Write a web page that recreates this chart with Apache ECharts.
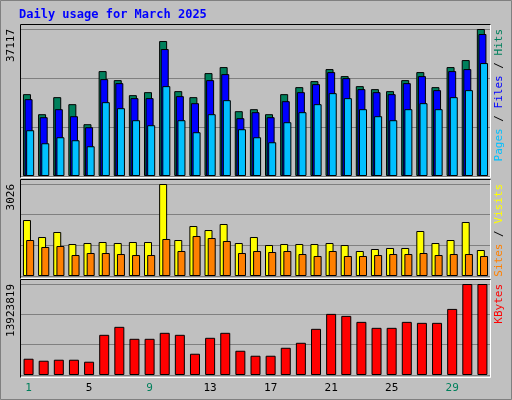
<!DOCTYPE html>
<html><head><meta charset="utf-8">
<script src="https://cdn.jsdelivr.net/npm/echarts@6/dist/echarts.min.js"></script>
<style>html,body{margin:0;padding:0;background:#c0c0c0}#c{width:512px;height:400px}</style>
</head><body><div id="c"></div>
<script>
const days = ['1','2','3','4','5','6','7','8','9','10','11','12','13','14','15','16','17','18','19','20','21','22','23','24','25','26','27','28','29','30','31'];
const weekend = ['1','2','8','9','15','16','22','23','29','30'];
const hits = [20668,15607,19909,18137,13076,26489,24211,20415,21174,34081,21427,19909,25983,27501,16366,16872,15607,20668,22440,23958,26995,25224,22693,21934,21427,24211,26236,22440,27501,29273,37117];
const files = [19403,14847,16872,15100,12317,24464,23452,19656,19656,32057,20162,18390,24211,25730,14594,16113,14847,18897,21174,23199,26236,24717,21934,21174,20668,23452,25224,21681,26489,26995,35853];
const pages = [11557,8267,9786,9027,7508,18644,17125,14088,12823,22693,14088,11051,15607,19150,11810,9786,8520,13582,16113,18137,20921,19656,16872,15100,14088,16872,18390,16872,19909,21681,28514];
const visits = [1841,1282,1447,1052,1085,1118,1085,1118,1118,3026,1184,1644,1512,1710,1085,1282,1019,1052,1052,1052,1085,1019,822,888,921,921,1480,1085,1184,1776,855];
const sites = [1184,954,986,690,756,756,723,690,690,1217,822,1315,1249,1151,756,822,789,822,723,658,822,658,658,690,723,723,756,690,723,723,658];
const kbytes = [2490033,2185131,2337582,2337582,2032680,6148857,7368465,5539053,5539053,6453759,6148857,3252288,5691504,6453759,3709641,2947386,2947386,4166994,4929249,7063563,9350328,9045426,8130720,7216014,7216014,8130720,7978269,7978269,10112583,13923819,13923819];
const maxHits = 37117, maxVisits = 3026, maxKB = 13923819;

const mono = 'DejaVu Sans Mono';
const grids = [
  {left:21, width:469, top:29, height:147},
  {left:21, width:469, top:184, height:92},
  {left:21, width:469, top:284, height:91}
];
function xa(i, showLabels){
  return {type:'category', data:days, gridIndex:i,
    axisLine:{show:false}, axisTick:{show:false},
    axisLabel: showLabels ? {show:true, fontFamily:mono, fontSize:11, margin:8,
      formatter:v => weekend.includes(v) ? '{w|'+v+'}' : '{d|'+v+'}',
      rich:{w:{color:'#00805c',fontFamily:mono,fontSize:11}, d:{color:'#000',fontFamily:mono,fontSize:11}}} : {show:false}};
}
function ya(i, max){
  return {type:'value', gridIndex:i, min:0, max:max, interval:max/3,
    axisLine:{show:false}, axisTick:{show:false}, axisLabel:{show:false},
    splitLine:{show:true, lineStyle:{color:'#808080', width:1}}};
}
const bs = c => ({color:c, borderColor:'#000', borderWidth:1});
function frame(x,y,w,h){
  return [
    {type:'rect', shape:{x:x,y:y,width:w,height:h}, style:{fill:'none', stroke:'#fff', lineWidth:1}, z:-1},
    {type:'polyline', shape:{points:[[x,y+h],[x,y],[x+w,y]]}, style:{stroke:'#000', fill:'none', lineWidth:1}, z:-1}
  ];
}
function vtext(x,y,rich,text){
  return {type:'text', x:x, y:y, rotation:Math.PI/2, style:{text:text, rich:rich, font:'11px '+mono, align:'left', verticalAlign:'middle'}};
}
const chart = echarts.init(document.getElementById('c'));
chart.setOption({
  backgroundColor:'#c0c0c0',
  animation:false,
  grid:grids,
  xAxis:[xa(0,false), xa(1,false), xa(2,true)],
  yAxis:[ya(0,maxHits), ya(1,maxVisits), ya(2,maxKB)],
  series:[
    {type:'bar', name:'Hits', xAxisIndex:0, yAxisIndex:0, data:hits, barWidth:8, barGap:'-80%', itemStyle:bs('#00805c')},
    {type:'bar', name:'Files', xAxisIndex:0, yAxisIndex:0, data:files, barWidth:8, barGap:'-80%', itemStyle:bs('#0000ff')},
    {type:'bar', name:'Pages', xAxisIndex:0, yAxisIndex:0, data:pages, barWidth:8, barGap:'-80%', itemStyle:bs('#00c0ff')},
    {type:'bar', name:'Visits', xAxisIndex:1, yAxisIndex:1, data:visits, barWidth:8, barGap:'-60%', itemStyle:bs('#ffff00')},
    {type:'bar', name:'Sites', xAxisIndex:1, yAxisIndex:1, data:sites, barWidth:8, barGap:'-60%', itemStyle:bs('#ff8000')},
    {type:'bar', name:'KBytes', xAxisIndex:2, yAxisIndex:2, data:kbytes, barWidth:10, itemStyle:bs('#ff0000')}
  ],
  graphic:[
    {type:'rect', shape:{x:0.5,y:0.5,width:511,height:399}, style:{fill:'none', stroke:'#808080', lineWidth:1}, z:-2},
    {type:'text', x:19, y:9, style:{text:'Daily usage for March 2025', font:'bold 12px '+mono, fill:'#0000ff'}},
    ...frame(20.5,24.5,470,153),
    ...frame(20.5,179.5,470,99),
    ...frame(20.5,279.5,470,98),
    {type:'text', x:17, y:29, rotation:Math.PI/2, style:{text:String(maxHits), font:'11px '+mono, fill:'#000', align:'right', verticalAlign:'bottom'}},
    {type:'text', x:17, y:184, rotation:Math.PI/2, style:{text:String(maxVisits), font:'11px '+mono, fill:'#000', align:'right', verticalAlign:'bottom'}},
    {type:'text', x:17, y:284, rotation:Math.PI/2, style:{text:String(maxKB), font:'11px '+mono, fill:'#000', align:'right', verticalAlign:'bottom'}},
    {type:'text', x:494, y:29, rotation:Math.PI/2, style:{text:'{p|Pages} {s|/} {f|Files} {s|/} {h|Hits}', font:'11px '+mono, align:'right', verticalAlign:'top',
      rich:{p:{fill:'#00c0ff',font:'11px '+mono}, f:{fill:'#0000ff',font:'11px '+mono}, h:{fill:'#00805c',font:'11px '+mono}, s:{fill:'#000',font:'11px '+mono}}}},
    {type:'text', x:494, y:184, rotation:Math.PI/2, style:{text:'{o|Sites} {s|/} {y|Visits}', font:'11px '+mono, align:'right', verticalAlign:'top',
      rich:{o:{fill:'#ff8000',font:'11px '+mono}, y:{fill:'#ffff00',font:'11px '+mono}, s:{fill:'#000',font:'11px '+mono}}}},
    {type:'text', x:494, y:284, rotation:Math.PI/2, style:{text:'KBytes', font:'11px '+mono, fill:'#ff0000', align:'right', verticalAlign:'top'}}
  ]
});
</script></body></html>
